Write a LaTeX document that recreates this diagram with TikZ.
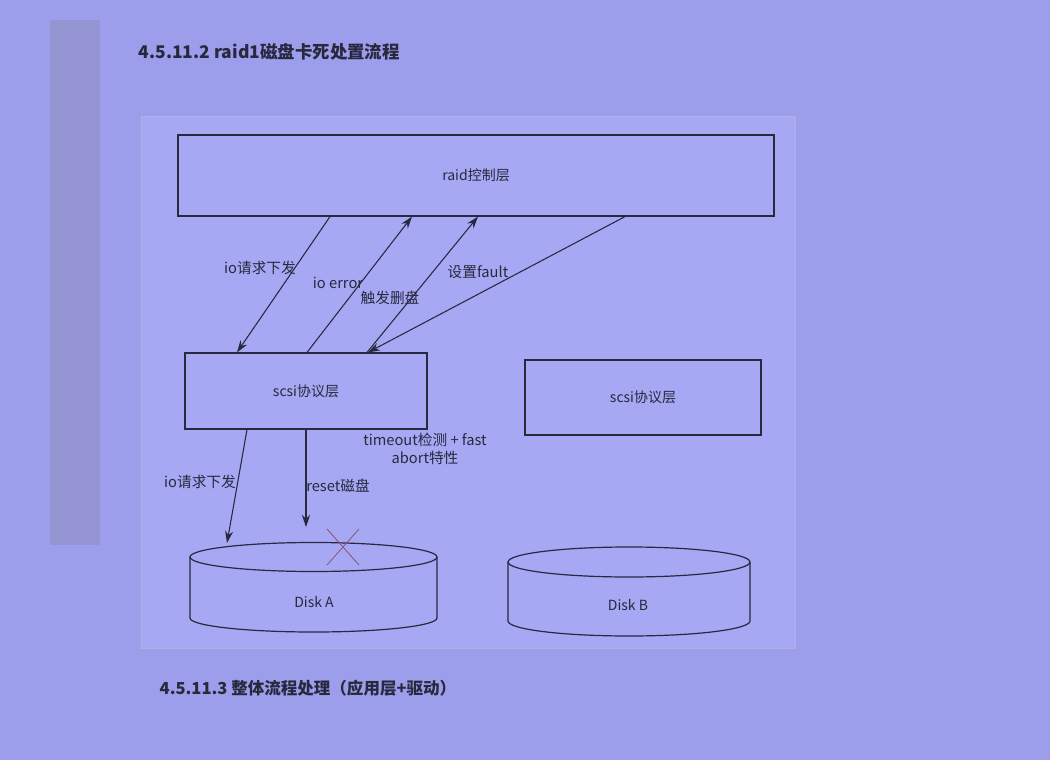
\documentclass[tikz,border=0pt]{standalone}
\usepackage{fontspec}
\setmainfont{Noto Sans CJK SC}
\usepackage{xcolor}
\usepackage{tikz}
\usetikzlibrary{arrows.meta}

\definecolor{photobg}{RGB}{156,158,236}
\definecolor{framebg}{RGB}{166,168,243}
\definecolor{marginband}{RGB}{148,148,210}
\definecolor{frameline}{RGB}{178,178,212}
\definecolor{inkline}{RGB}{40,40,62}
\definecolor{crossline}{RGB}{138,84,120}

\begin{document}
\begin{tikzpicture}[x=0.75pt,y=0.75pt,yscale=-1,xscale=1,
  layerbox/.style={draw=inkline, line width=0.9pt, inner sep=0pt, font=\fontsize{10.5}{12}\selectfont, text=inkline},
  flow/.style={draw=inkline, line width=0.8pt, -{Stealth[length=9pt,width=6pt]}},
  flowlabel/.style={font=\fontsize{11}{13}\selectfont, text=inkline, inner sep=0pt},
  disk/.style={draw=inkline, line width=0.9pt}]
%set diagram to the size of the photo
\useasboundingbox (0,0) rectangle (1050,760);
\fill [photobg] (0,0) rectangle (1050,760);
\fill [marginband] (50,20) rectangle (100,545);

% Text Node
\draw (134,52) node [anchor=west, font=\fontsize{13.1}{15}\selectfont\bfseries, text=inkline] (headA) {4.5.11.2 raid1磁盘卡死处置流程};

%Frame of the figure
\draw [frameline, fill=framebg, line width=0.6pt] (141,116) rectangle (795,648);

%Layer boxes
\node [layerbox, minimum width=447pt, minimum height=60.75pt] (raid) at (476,175.5) {raid控制层};
\node [layerbox, minimum width=181.5pt, minimum height=57pt] (scsiA) at (306,391) {scsi协议层};
\node [layerbox, minimum width=177pt, minimum height=56.25pt] (scsiB) at (643,397.5) {scsi协议层};

%Disk A
\draw [disk] (190,557) -- (190,618) arc [start angle=180, end angle=0, x radius=123.5, y radius=14] -- (437,557);
\draw [disk] (313.5,557) ellipse [x radius=123.5, y radius=14.5];
\draw (314,602) node [font=\fontsize{10.5}{12}\selectfont, text=inkline] (diskA) {Disk A};
\coordinate (diskAtop) at (227,543);
\coordinate (diskAreset) at (306,527);
%Disk B
\draw [disk] (508,562) -- (508,621) arc [start angle=180, end angle=0, x radius=121, y radius=15] -- (750,562);
\draw [disk] (629,562) ellipse [x radius=121, y radius=15];
\draw (628,605) node [font=\fontsize{10.5}{12}\selectfont, text=inkline] (diskB) {Disk B};

%Cross on disk A
\draw [crossline, line width=0.6pt] (327,529) -- (359,565) (359,529) -- (327,565);

%Straight Lines
\draw [flow] (raid.south -| 330,0) -- (scsiA.north -| 237,0);
\draw [flow] (scsiA.north -| 307,0) -- (raid.south -| 412,0);
\draw [flow] (scsiA.north -| 367,0) -- (raid.south -| 478,0);
\draw [flow] (raid.south -| 625,0) -- (scsiA.north -| 368,0);
\draw [flow] (scsiA.south -| 247,0) -- (diskAtop);
\draw [flow] (scsiA.south -| 306,0) -- (diskAreset);

% Text Node
\draw (260,268) node [flowlabel] (ioDown) {io请求下发};
% Text Node
\draw (338,283) node [flowlabel] (ioErr) {io error};
% Text Node
\draw (390,298) node [flowlabel] (delDisk) {触发删盘};
% Text Node
\draw (478,272) node [flowlabel] (setFault) {设置fault};
% Text Node
\draw (200,482) node [flowlabel] (ioDownB) {io请求下发};
% Text Node
\draw (338,486) node [flowlabel] (resetDisk) {reset磁盘};
% Text Node
\draw (425,449) node [flowlabel, align=center] (timeoutChk) {timeout检测 + fast\\abort特性};

% Text Node
\draw (155,688) node [anchor=west, font=\fontsize{12.4}{15}\selectfont\bfseries, text=inkline] (headB) {4.5.11.3 整体流程处理（应用层+驱动）};
\end{tikzpicture}
\end{document}
